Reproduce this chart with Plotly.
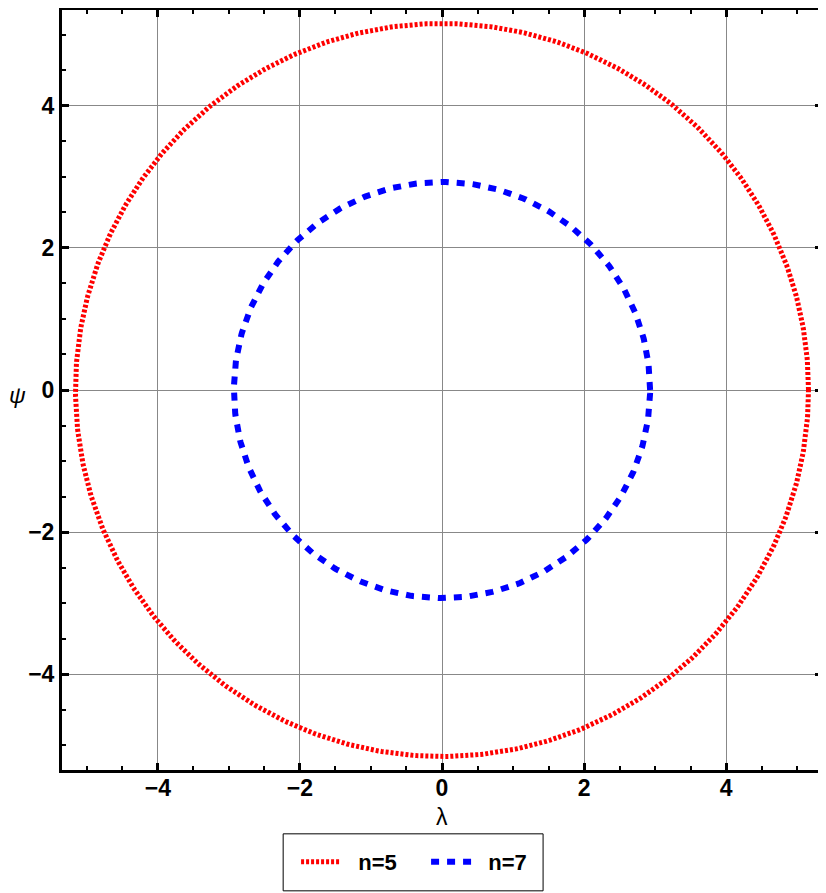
import plotly.graph_objects as go
import numpy as np

# curve data: n and the circle radius in (lambda, psi)
n_values = [5, 7]
radii = [5.16, 2.93]
colors = ["#ff0000", "#0000ff"]
dashes = ["3px,2px", "8px,8px"]
widths = [5, 6]

tick_vals = [-4, -2, 0, 2, 4]
tick_text = ["<b>\u22124</b>", "<b>\u22122</b>", "<b>0</b>", "<b>2</b>", "<b>4</b>"]

theta = np.linspace(0, 2 * np.pi, 721)

fig = go.Figure()
for n, r, c, d, w in zip(n_values, radii, colors, dashes, widths):
    fig.add_trace(go.Scatter(
        x=r * np.cos(theta), y=r * np.sin(theta),
        mode="lines", name=f"\u00a0\u00a0<b>n={n}</b>",
        line=dict(color=c, dash=d, width=w),
    ))

axis_style = dict(
    range=[-5.35, 5.35],
    tickvals=tick_vals, ticktext=tick_text,
    ticks="inside", ticklen=7, tickwidth=2.5, tickcolor="black",
    minor=dict(dtick=0.5, ticks="inside", ticklen=4, tickwidth=2, tickcolor="black", showgrid=False),
    showline=True, linecolor="black", linewidth=3, mirror="allticks",
    showgrid=True, gridcolor="#888888", gridwidth=1,
    zeroline=False, automargin=False,
    tickfont=dict(family="Arial", size=23, color="black"),
)
fig.update_xaxes(**axis_style, ticklabelstandoff=-5)
fig.update_yaxes(**axis_style)

fig.add_annotation(text="\u03bb", xref="paper", yref="paper", x=0.5, y=-0.062,
                   yanchor="middle", showarrow=False,
                   font=dict(family="Arial", size=23, color="black"))
fig.add_annotation(text="<i>\u03c8</i>", xref="paper", yref="paper", x=-0.059, y=0.494,
                   xanchor="center", showarrow=False,
                   font=dict(family="Arial", size=23, color="black"))

# legend frame
fig.add_shape(type="rect", xref="paper", yref="paper",
              x0=0.291, x1=0.633, y0=-0.159, y1=-0.084,
              line=dict(color="black", width=1))

fig.update_layout(
    width=818, height=885,
    margin=dict(l=54, r=4, t=2, b=123),
    plot_bgcolor="white", paper_bgcolor="white",
    legend=dict(orientation="h", x=0.308, xanchor="left", y=-0.121, yanchor="middle",
                borderwidth=0, bgcolor="rgba(0,0,0,0)",
                font=dict(family="Arial", size=22, color="black"),
                itemwidth=40,
                entrywidth=75, entrywidthmode="pixels"),
)

fig.write_html("out.html")
